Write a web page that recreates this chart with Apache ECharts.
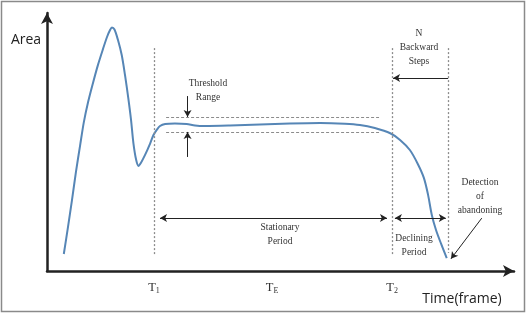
<!DOCTYPE html>
<html>
<head>
<meta charset="utf-8">
<script src="https://cdn.jsdelivr.net/npm/echarts@6/dist/echarts.min.js"></script>
<style>
  html, body { margin: 0; padding: 0; background: #fff; }
  #chart { width: 528px; height: 314px; }
</style>
</head>
<body>
<div id="chart"></div>
<script>
// Area over time: rise, settle in a stationary band, then decline.
// Axis units are arbitrary (0-100 both ways).
var timeFrame = [3.6, 4.5, 5.35, 6.2, 7.1, 7.9, 8.8, 9.85, 10.9, 12.0, 12.85, 13.5, 13.9, 14.45,
  15.2, 16.0, 16.7, 17.4, 18.0, 18.5, 19.1, 19.6, 20.1, 21.0, 22.1, 22.8, 23.5, 24.2, 25.3, 27.4,
  29.9, 31.7, 33.8, 39.2, 45.6, 52.0, 58.5, 63.8, 67.0, 70.2, 73.5, 75.6, 77.7, 79.4, 80.7, 81.6,
  82.4, 83.3, 84.4, 85.6];
var area = [6.6, 17.1, 27.5, 38.4, 48.8, 57.8, 65.5, 72.9, 79.8, 86.1, 90.7, 93.4, 94.4, 93.6,
  89.5, 83.7, 76.0, 67.1, 58.5, 49.6, 43.0, 40.7, 41.9, 45.0, 49.5, 52.7, 54.7, 56.2, 57.0, 57.2,
  57.0, 56.4, 56.2, 56.4, 56.8, 57.2, 57.4, 57.1, 56.6, 55.4, 53.4, 50.8, 46.9, 41.5, 36.1, 29.5,
  21.7, 15.9, 10.5, 5.0];

var tickNames = ["1", "E", "2"];          // T1, TE, T2
var tickValues = [22.9, 48.2, 73.9];
var stepStart = 85.9;                    // start of the N backward steps
var thresholdHigh = 59.7, thresholdLow = 53.9;

(function () {
  var chart = echarts.init(document.getElementById("chart"), null, { renderer: "canvas" });
  var serif = "'Liberation Serif', 'DejaVu Serif', serif";
  var sans = "'Open Sans', 'Liberation Sans', sans-serif";

  function pt(x, y, sym) { return { coord: [x, y], symbol: sym || "none" }; }

  var guides = [tickValues[0], tickValues[2], stepStart].map(function (x, i) {
    return [pt(x, 86.4), pt(x, i === 2 ? 7.0 : 6.2)];
  });
  var band = [thresholdHigh, thresholdLow].map(function (y) {
    return [pt(25.5, y), pt(71.1, y)];
  });
  var arrows = [
    [pt(30.1, 67.8), pt(30.1, thresholdHigh, "arrow")],
    [pt(30.1, 44.2), pt(30.1, thresholdLow, "arrow")],
    [pt(stepStart, 74.8), pt(74.1, 74.8, "arrow")],
    [pt(24.2, 20.5, "arrow"), pt(72.8, 20.5, "arrow")],
    [pt(74.5, 20.5, "arrow"), pt(85.4, 20.5, "arrow")],
    [pt(93.1, 20.5), pt(86.5, 4.7, "arrow")]
  ];

  function helper(data, lineStyle, symbolSize) {
    return {
      type: "line", data: [], silent: true,
      markLine: {
        silent: true, animation: false, symbolSize: symbolSize || [6, 7],
        label: { show: false }, emphasis: { disabled: true },
        lineStyle: lineStyle, data: data
      }
    };
  }

  function txt(x, y, lines, size) {
    return { type: "text", x: x, y: y, style: {
      text: lines.join("\n"), font: size + "px " + serif, fill: "#333",
      align: "center", verticalAlign: "middle", lineHeight: 14 } };
  }

  chart.setOption({
    animation: false,
    grid: { left: 47, right: 14, top: 13, bottom: 43 },
    xAxis: {
      type: "value", min: 0, max: 100,
      splitLine: { show: false }, axisTick: { show: false },
      axisLine: { show: true, symbol: ["none", "arrow"], symbolSize: [9, 11],
        lineStyle: { color: "#222", width: 2.5 } },
      axisLabel: {
        customValues: tickValues, margin: 10,
        formatter: function (v) {
          var i = tickValues.indexOf(v);
          return i < 0 ? "" : "{t|T}{s|" + tickNames[i] + "}";
        },
        rich: {
          t: { fontSize: 12.5, fontFamily: serif, color: "#333" },
          s: { fontSize: 8, fontFamily: serif, color: "#333", padding: [6, 0, 0, 0] }
        }
      }
    },
    yAxis: {
      type: "value", min: 0, max: 100,
      splitLine: { show: false }, axisTick: { show: false }, axisLabel: { show: false },
      axisLine: { show: true, symbol: ["none", "arrow"], symbolSize: [9, 11],
        lineStyle: { color: "#222", width: 2.5 } }
    },
    series: [
      {
        type: "line", smooth: 0.3, showSymbol: false, silent: true,
        data: timeFrame.map(function (t, i) { return [t, area[i]]; }),
        lineStyle: { color: "#5686b6", width: 2 }
      },
      helper(guides, { color: "#8c8c8c", type: [2, 2], width: 1.3 }),
      helper(band, { color: "#8c8c8c", type: [3, 2], width: 1.2 }),
      helper(arrows, { color: "#222", type: "solid", width: 1 })
    ],
    graphic: [
      { type: "rect", shape: { x: 1.5, y: 1.5, width: 523, height: 310 },
        style: { fill: "none", stroke: "#8a8a8a", lineWidth: 1.5 } },
      { type: "text", x: 26, y: 40, style: { text: "Area", font: "14px " + sans,
        fill: "#222", align: "center", verticalAlign: "middle" } },
      { type: "text", x: 462, y: 299, style: { text: "Time(frame)", font: "14px " + sans,
        fill: "#222", align: "center", verticalAlign: "middle" } },
      txt(208, 90, ["Threshold", "Range"], 9.5),
      txt(419, 47.5, ["N", "Backward", "Steps"], 9.5),
      txt(280, 234, ["Stationary", "Period"], 9.5),
      txt(414, 245, ["Declining", "Period"], 9.5),
      txt(480, 196, ["Detection", "of", "abandoning"], 9.5)
    ]
  });
})();
</script>
</body>
</html>
